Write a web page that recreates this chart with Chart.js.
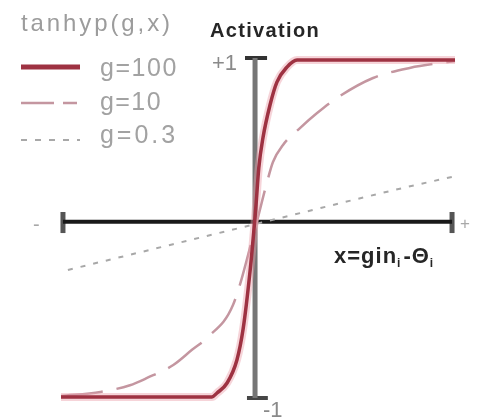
<!DOCTYPE html>
<html lang="en">
<head>
    <meta charset="UTF-8">
    <title>tanhyp(g,x)</title>
    <script src="https://cdn.jsdelivr.net/npm/chart.js"></script>
    <style>
        body { margin: 0; background: #fff; }
        #box { width: 477px; height: 418px; }
    </style>
</head>
<body>
    <div id="box"><canvas id="grafico" width="477" height="418"></canvas></div>

    <script>
        // curve values read as (x, activation) pairs
        var seriesNames = ['g=100', 'g=10', 'g=0.3']
        var g100X = [-1.0, -0.234, -0.208, -0.157, -0.107, -0.076, -0.04, -0.02, -0.01, 0.004, 0.025, 0.061, 0.096, 0.147, 0.198, 1.0]
        var g100Y = [-1.0, -1.0, -0.976, -0.917, -0.78, -0.60, -0.25, 0.0, 0.14, 0.36, 0.537, 0.733, 0.869, 0.958, 1.0, 1.0]
        var g10X = [-1.0, -0.80, -0.65, -0.563, -0.43, -0.335, -0.254, -0.127, -0.015, 0.046, 0.076, 0.127, 0.213, 0.30, 0.40, 0.584, 0.77, 1.0]
        var g10Y = [-0.994, -0.97, -0.93, -0.887, -0.81, -0.72, -0.644, -0.454, 0.0, 0.276, 0.395, 0.496, 0.596, 0.685, 0.774, 0.893, 0.953, 0.994]
        var g03X = [-0.965, 0.112, 0.756, 1.0]
        var g03Y = [-0.246, 0.062, 0.246, 0.31]

        // axes drawn as lines
        var xAxisLevel = 0.04
        var xAxisEnds = [-0.99, 0.985]
        var yAxisPos = -0.015
        var yAxisEnds = [-1.006, 1.012]
        var yTickLabels = ['+1', '-1']
        var xTickLabels = ['-', '+']
        var titleText = 'tanhyp(g,x)'
        var yTitle = 'Activation'

        function pts(xs, ys) {
            return xs.map(function (x, i) { return { x: x, y: ys[i] } })
        }

        function line(data, color, width, dash, order) {
            return {
                data: data,
                showLine: true,
                borderColor: color,
                borderWidth: width,
                borderDash: dash || [],
                pointRadius: 0,
                cubicInterpolationMode: 'monotone',
                clip: false,
                order: order,
                borderCapStyle: 'butt'
            }
        }

        var red = 'rgb(158,50,66)'
        var pinkDash = 'rgb(196,150,160)'
        var dotGray = 'rgb(168,168,168)'

        var datasets = [
            line(pts(g100X, g100Y), red, 3.5, null, 1),
            line(pts(g100X, g100Y), 'rgba(236,160,170,0.45)', 8, null, 2),
            line(pts(g10X, g10Y), pinkDash, 2.5, [42, 14], 3),
            line(pts(g03X, g03Y), dotGray, 2, [5, 8], 4),
            // vertical axis and its end caps
            line(pts([yAxisPos, yAxisPos], yAxisEnds), 'rgb(118,118,118)', 5, null, 5),
            line(pts([-0.066, 0.046], [yAxisEnds[1], yAxisEnds[1]]), 'rgb(50,50,50)', 4, null, 5),
            line(pts([-0.056, 0.05], [yAxisEnds[0], yAxisEnds[0]]), 'rgb(70,70,70)', 4, null, 5),
            // horizontal axis and its end caps
            line(pts(xAxisEnds, [xAxisLevel, xAxisLevel]), 'rgb(25,25,25)', 4, null, 4),
            line(pts([xAxisEnds[0], xAxisEnds[0]], [0.098, -0.027]), 'rgb(85,85,85)', 5, null, 4),
            line(pts([xAxisEnds[1], xAxisEnds[1]], [0.098, -0.027]), 'rgb(85,85,85)', 5, null, 4)
        ]

        function text(ctx, str, x, y, font, color, width) {
            ctx.font = font
            ctx.fillStyle = color
            ctx.letterSpacing = '0px'
            if (width) {
                var w = ctx.measureText(str).width
                var sp = (width - w) / str.length
                if (sp > 0) ctx.letterSpacing = sp.toFixed(2) + 'px'
            }
            ctx.fillText(str, x, y)
            ctx.letterSpacing = '0px'
        }

        var labels = {
            id: 'labels',
            afterDraw: function (chart) {
                var ctx = chart.ctx
                var sy = chart.scales.y
                ctx.save()
                ctx.textBaseline = 'alphabetic'
                var sans = '"Liberation Sans", Arial, sans-serif'

                text(ctx, titleText, 21, 31, '24px ' + sans, '#9c9c9c', 152)

                // legend
                var rows = [
                    { y: 67, color: red, w: 5, dash: [] },
                    { y: 103, color: pinkDash, w: 2.5, dash: [33, 9, 14, 100] },
                    { y: 140, color: dotGray, w: 2, dash: [6, 8] }
                ]
                var base = [76, 110, 143]
                rows.forEach(function (r, i) {
                    ctx.beginPath()
                    ctx.setLineDash(r.dash)
                    ctx.strokeStyle = r.color
                    ctx.lineWidth = r.w
                    ctx.moveTo(21, r.y)
                    ctx.lineTo(80, r.y)
                    ctx.stroke()
                    text(ctx, seriesNames[i], 100, base[i], '25px ' + sans, '#a2a2a2', i == 1 ? 62 : 78)
                })
                ctx.setLineDash([])

                text(ctx, yTitle, 210, 37, 'bold 20px ' + sans, '#262626', 110)
                text(ctx, yTickLabels[0], 212, 70, '22px ' + sans, '#8a8a8a')
                text(ctx, yTickLabels[1], 263, 417, '22px ' + sans, '#8a8a8a')
                var ay = sy.getPixelForValue(xAxisLevel)
                text(ctx, xTickLabels[0], 33, ay + 9, '20px ' + sans, '#a8a8a8')
                text(ctx, xTickLabels[1], 460, ay + 7, '17px ' + sans, '#a8a8a8')

                // x = g·in_i − Θ_i
                var fb = 'bold 22px ' + sans
                var fs = 'bold 12px ' + sans
                var x = 334, b = 263
                ctx.fillStyle = '#262626'
                ctx.letterSpacing = '1px'
                ctx.font = fb; ctx.fillText('x=gin', x, b); x += ctx.measureText('x=gin').width
                ctx.font = fs; ctx.fillText('i', x, b + 4); x += ctx.measureText('i').width + 2
                ctx.font = fb; ctx.fillText('-\u0398', x, b); x += ctx.measureText('-\u0398').width
                ctx.font = fs; ctx.fillText('i', x, b + 4)
                ctx.letterSpacing = '0px'
                ctx.restore()
            }
        }

        var meuGrafico = new Chart(document.getElementById('grafico').getContext('2d'), {
            type: 'scatter',
            data: { datasets: datasets },
            options: {
                responsive: false,
                animation: false,
                layout: { padding: { left: 61, right: 22, top: 60, bottom: 21 } },
                plugins: { legend: { display: false }, tooltip: { enabled: false } },
                scales: {
                    x: { type: 'linear', display: false, min: -1, max: 1 },
                    y: { type: 'linear', display: false, min: -1, max: 1 }
                }
            },
            plugins: [labels]
        })
    </script>
</body>
</html>
